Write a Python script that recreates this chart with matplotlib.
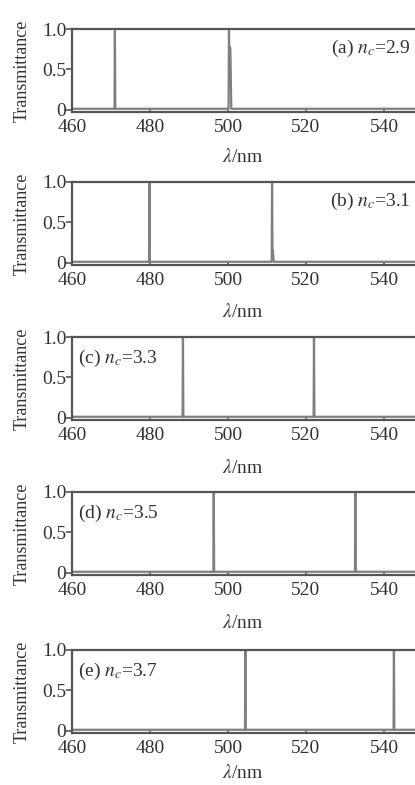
import matplotlib
matplotlib.use('Agg')
import matplotlib.pyplot as plt

plt.rcParams['font.family'] = ['Liberation Serif', 'DejaVu Serif']
plt.rcParams['mathtext.fontset'] = 'stix'

# Transmittance spectra (wavelength nm, transmittance)
wl_a = [460, 470.9, 471.0, 471.1, 500.15, 500.25, 500.35, 500.45, 500.6, 500.75, 500.85, 560]
tr_a = [0.01, 0.01, 0.98, 0.01, 0.01, 0.98, 0.40, 0.78, 0.76, 0.30, 0.01, 0.01]

wl_b = [460, 479.75, 479.85, 479.95, 511.2, 511.3, 511.4, 511.5, 511.7, 560]
tr_b = [0.01, 0.01, 1.0, 0.01, 0.01, 1.0, 0.15, 0.15, 0.01, 0.01]

wl_c = [460, 488.35, 488.45, 488.55, 521.95, 522.05, 522.15, 560]
tr_c = [0.01, 0.01, 1.0, 0.01, 0.01, 1.0, 0.01, 0.01]

wl_d = [460, 496.25, 496.35, 496.45, 532.55, 532.65, 532.75, 532.9, 560]
tr_d = [0.01, 0.01, 1.0, 0.01, 0.01, 1.0, 0.06, 0.01, 0.01]

wl_e = [460, 504.35, 504.45, 504.55, 542.45, 542.55, 542.65, 560]
tr_e = [0.01, 0.01, 1.0, 0.01, 0.01, 1.0, 0.01, 0.01]

panels = [
    (wl_a, tr_a, '(a) $n_c$=2.9', 'right'),
    (wl_b, tr_b, '(b) $n_c$=3.1', 'right'),
    (wl_c, tr_c, '(c) $n_c$=3.3', 'left'),
    (wl_d, tr_d, '(d) $n_c$=3.5', 'left'),
    (wl_e, tr_e, '(e) $n_c$=3.7', 'left'),
]

x_ticks = [460, 480, 500, 520, 540]
y_ticks = [0, 0.5, 1.0]
y_ticklabels = ['0', '0.5', '1.0']

W, H = 415, 785
fig = plt.figure(figsize=(W / 100, H / 100), dpi=100)

bottoms = [112, 265, 420, 575, 733]   # bottom spine, pixels from top
xlabel_gap = [45, 47, 48, 48, 40]     # pixels from bottom spine to x-label centre
left_px, height_px = 72, 83
width_px = 390                        # 460..560 nm, right part falls off the page

spine_col = '#555555'
line_col = '#7f7f7f'
text_col = '#333333'
fs = 14

for (wl, tr, label, side), b, gap in zip(panels, bottoms, xlabel_gap):
    ax = fig.add_axes([left_px / W, (H - b) / H, width_px / W, height_px / H])
    ax.plot(wl, tr, color=line_col, lw=1.6)
    ax.set_xlim(460, 560)
    ax.set_ylim(-0.03, 1.0)
    ax.set_xticks(x_ticks)
    ax.set_yticks(y_ticks)
    ax.set_yticklabels(y_ticklabels)
    ax.tick_params(axis='x', direction='in', length=3, width=1.2, colors=spine_col,
                   labelcolor=text_col, labelsize=fs, pad=5)
    ax.tick_params(axis='y', direction='out', length=4, width=1.2, colors=spine_col,
                   labelcolor=text_col, labelsize=fs, pad=0)
    for s in ax.spines.values():
        s.set_color(spine_col)
        s.set_linewidth(1.6)
    ax.set_ylabel('Transmittance', fontsize=13, color=text_col)
    ax.yaxis.set_label_coords(-0.105, 0.5)
    if side == 'right':
        ax.text(546.8, 0.76, label, ha='right', va='center', fontsize=fs, color=text_col)
    else:
        ax.text(461.5, 0.74, label, ha='left', va='center', fontsize=fs, color=text_col)
    fig.text(243 / W, 1 - (b + gap) / H, r'$\lambda$/nm', ha='center', va='center',
             fontsize=fs, color=text_col)

fig.savefig('out.png', dpi=100)
